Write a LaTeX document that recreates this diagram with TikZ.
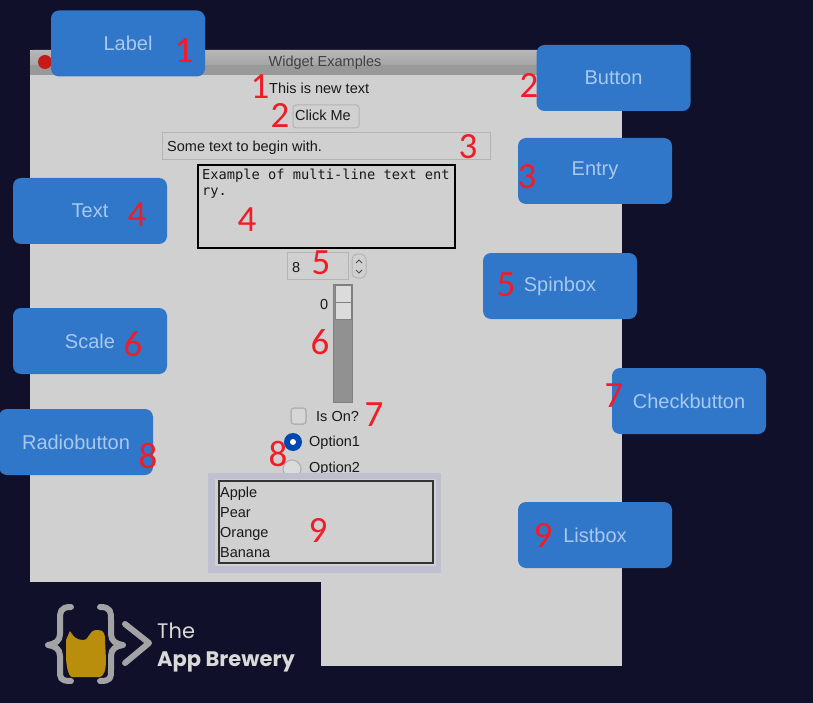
\documentclass[tikz,border=0pt]{standalone}
\usepackage{fontspec}
\setmainfont{Liberation Sans}
\newfontfamily\monofont{DejaVu Sans Mono}
\newfontfamily\numfont{Carlito}
\newfontfamily\logofont{Poppins}
\definecolor{pagebg}{HTML}{10102A}
\definecolor{winbg}{HTML}{D0D0D0}
\definecolor{calloutblue}{HTML}{3077C9}
\definecolor{calloutfg}{HTML}{A9C8EC}
\definecolor{edgegray}{HTML}{B4B4B4}
\definecolor{numred}{HTML}{F01C28}
\definecolor{logogray}{HTML}{A3A3A6}
\definecolor{beer}{HTML}{B98E0C}
\begin{document}
\begin{tikzpicture}[x=1pt,y=-1pt,
  callout/.style={rectangle,rounded corners=8pt,fill=calloutblue,text=calloutfg,minimum width=154pt,minimum height=66pt,inner sep=0pt,font=\fontsize{20}{24}\selectfont},
  widgettext/.style={anchor=base west,inner sep=0pt,text=black!90,font=\fontsize{14.5}{17}\selectfont},
  num/.style={inner sep=0pt,text=numred,font=\numfont\fontsize{37}{40}\selectfont},
  wbox/.style={draw=edgegray,line width=1pt,fill=winbg}]
\def\hTitle{75}
\def\hWin{666}
\useasboundingbox (0,0) rectangle (813,703);
\fill[pagebg] (0,0) rectangle (813,703);
% window
\fill[winbg] (30,50) rectangle (622,\hWin);
\shade[top color=black!28,bottom color=black!40,rounded corners=3pt] (30,50) rectangle (622,\hTitle);
\fill[black!40] (30,65) rectangle (622,\hTitle);
\fill[red!75!black!90] (45,62) circle (7);
\node[inner sep=0pt,text=black!75,font=\fontsize{14.5}{17}\selectfont] (title) at (325,63) {Widget Examples};
% widgets
\node[widgettext] (lbl) at (269,94) {This is new text};
\draw[wbox,rounded corners=3pt] (293,105) rectangle (359,128);
\node[widgettext] (btn) at (295,121) {Click Me};
\draw[wbox] (162,133) rectangle (490,160);
\node[widgettext] (ent) at (167,152) {Some text to begin with.};
\draw[line width=2.5pt,black] (198,165) rectangle (455,248);
\node[anchor=north west,inner sep=0pt,align=left,text=black!90,font=\monofont\fontsize{13.7}{16}\selectfont] (txt) at (202,169) {Example of multi-line text ent\\ry.};
\draw[wbox] (287,252) rectangle (348,279);
\node[widgettext] (spinval) at (292,272) {8};
\draw[wbox,rounded corners=5pt] (352,254) rectangle (366,278);
\draw[black!70,line width=.8pt] (356,263) -- (359,260) -- (362,263) (356,270) -- (359,273) -- (362,270);
% scale
\fill[black!43] (333,284) rectangle (352,402);
\draw[black!50,line width=1pt] (333,284) rectangle (352,402);
\draw[fill=black!14,draw=black!50,line width=1pt] (335,285) rectangle (351,302);
\draw[fill=black!14,draw=black!50,line width=1pt] (335,302) rectangle (351,319);
\node[widgettext] (scaleval) at (320,309) {0};
% check and radio
\draw[draw=black!30,fill=black!16,line width=1.5pt,rounded corners=3pt] (291,408) rectangle (306,424);
\node[widgettext] (chk) at (316,421) {Is On?};
\fill[blue!60!cyan!70!black] (293,442) circle (9);
\fill[white] (293,442) circle (3);
\node[widgettext] (optA) at (309,446) {Option1};
\draw[black!30,fill=black!14,line width=1.2pt] (292,469) circle (9);
\node[widgettext] (optB) at (309,472) {Option2};
% listbox
\fill[black!5,fill=blue!25!black!25] (208,473) rectangle (441,573);
\fill[winbg] (215,479) rectangle (436,566);
\draw[black!80,line width=1.2pt] (219,481) rectangle (433,563);
\path
(220,497) node [widgettext] (itemA) {Apple}
(220,517) node [widgettext] (itemB) {Pear}
(220,537) node [widgettext] (itemC) {Orange}
(220,557) node [widgettext] (itemD) {Banana}
;
% callouts
\path
(128,43.5) node [callout] (cLabel) {Label}
(613.5,78) node [callout] (cButton) {Button}
(595,171) node [callout] (cEntry) {Entry}
(90,211) node [callout] (cText) {Text}
(560,286) node [callout] (cSpin) {Spinbox}
(90,341) node [callout] (cScale) {Scale}
(689,401) node [callout] (cCheck) {Checkbutton}
(76,442) node [callout] (cRadio) {Radiobutton}
(595,535) node [callout] (cList) {Listbox}
;
% red numbers
\path
(184,51) node [num] (n1a) {1}
(260,87) node [num] (n1b) {1}
(529,85) node [num] (n2a) {2}
(280,115) node [num] (n2b) {2}
(468,147) node [num] (n3a) {3}
(527,177) node [num] (n3b) {3}
(137,215) node [num] (n4a) {4}
(247,220) node [num] (n4b) {4}
(321,263) node [num] (n5a) {5}
(506,285) node [num] (n5b) {5}
(133,344) node [num] (n6a) {6}
(320,342) node [num] (n6b) {6}
(374,415) node [num] (n7a) {7}
(614,396) node [num] (n7b) {7}
(278,454) node [num] (n8a) {8}
(148,456) node [num] (n8b) {8}
(318,530) node [num] (n9a) {9}
(543,535) node [num] (n9b) {9}
;
% logo
\fill[pagebg] (28,582) rectangle (321,703);
\begin{scope}[draw=logogray,line width=6pt,line cap=round,line join=round]
\draw (71,607) .. controls (60,607) and (60,612) .. (60,620) -- (60,634) .. controls (60,641) and (55,644) .. (48,645) .. controls (55,646) and (60,649) .. (60,656) -- (60,670) .. controls (60,678) and (60,681) .. (71,681);
\draw (100,607) .. controls (111,607) and (111,612) .. (111,620) -- (111,634) .. controls (111,641) and (116,644) .. (123,645) .. controls (116,646) and (111,649) .. (111,656) -- (111,670) .. controls (111,678) and (111,681) .. (100,681);
\draw (125,624) -- (149,643) -- (125,663);
\end{scope}
\fill[beer] (70,631) .. controls (73,636) and (76,640) .. (83,640) .. controls (90,640) and (88,630) .. (97,630) .. controls (103,630) and (105,632) .. (105,640) -- (106,660) .. controls (106,670) and (104,676) .. (100,677) -- (72,677) .. controls (68,676) and (66,665) .. (66,655) -- (66,640) -- cycle;
\node[anchor=base west,inner sep=0pt,text=black!15,font=\logofont\fontsize{21}{24}\selectfont] (logoA) at (157,638) {The};
\node[anchor=base west,inner sep=0pt,text=black!15,font=\logofont\bfseries\fontsize{21}{24}\selectfont] (logoB) at (157,666) {App Brewery};
\end{tikzpicture}
\end{document}
